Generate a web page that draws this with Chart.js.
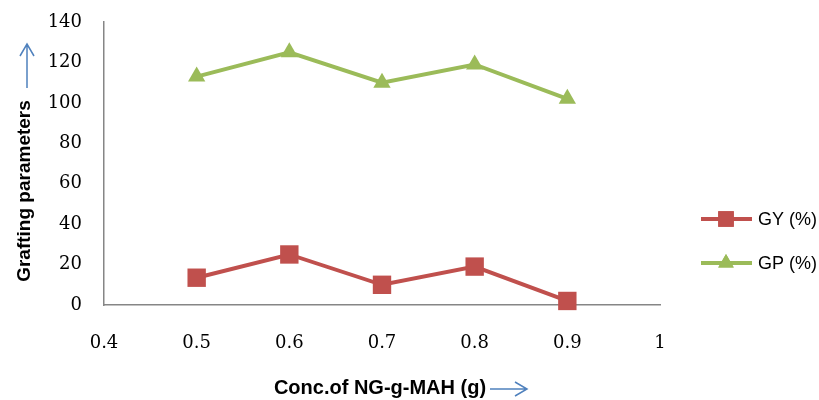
<!DOCTYPE html>
<html>
<head>
<meta charset="UTF-8">
<title>Grafting parameters</title>
<script src="https://cdn.jsdelivr.net/npm/chart.js"></script>
<style>
  body { margin: 0; background: #fff; }
  #wrap { position: relative; width: 819px; height: 400px; }
</style>
</head>
<body>
<div id="wrap"><canvas id="myChart" width="819" height="400"></canvas></div>
<script>
  // concentracao (g)
  const conc = [0.5, 0.6, 0.7, 0.8, 0.9];
  // GY (%) e GP (%)
  const gy = [13.5, 25, 10, 19, 2];
  const gp = [113, 125, 110, 119, 102];

  const xTicks = [0.4, 0.5, 0.6, 0.7, 0.8, 0.9, 1];
  const yTicks = [0, 20, 40, 60, 80, 100, 120, 140];

  const vermelho = '#C0504D';
  const verde = '#9BBB59';
  const azul = '#4F81BD';

  function pontos(valores) {
    return conc.map((c, i) => ({ x: c, y: valores[i] }));
  }

  // titulos, setas e legenda desenhados a mao
  const extras = {
    id: 'extras',
    afterDraw(chart) {
      const ctx = chart.ctx;
      ctx.save();

      // titulo eixo y
      ctx.fillStyle = '#000';
      ctx.font = 'bold 19px "Liberation Sans"';
      ctx.textAlign = 'center';
      ctx.textBaseline = 'middle';
      ctx.save();
      ctx.translate(25, 191);
      ctx.rotate(-Math.PI / 2);
      ctx.fillText('Grafting parameters', 0, 0);
      ctx.restore();

      // titulo eixo x
      ctx.font = 'bold 20px "Liberation Sans"';
      ctx.fillText('Conc.of NG-g-MAH (g)', 380, 388);

      // setas azuis
      ctx.strokeStyle = azul;
      ctx.lineWidth = 1.5;
      ctx.beginPath();
      ctx.moveTo(27, 88); ctx.lineTo(27, 44);
      ctx.moveTo(20, 56); ctx.lineTo(27, 44); ctx.lineTo(34, 56);
      ctx.moveTo(490, 389); ctx.lineTo(527, 389);
      ctx.moveTo(515, 382); ctx.lineTo(527, 389); ctx.lineTo(515, 396);
      ctx.stroke();

      // legenda
      const itens = [
        { label: 'GY (%)', cor: vermelho, y: 219, forma: 'rect', r: 11 },
        { label: 'GP (%)', cor: verde, y: 263, forma: 'triangle', r: 9 }
      ];
      ctx.font = '18px "Liberation Sans"';
      ctx.textAlign = 'left';
      itens.forEach(it => {
        ctx.strokeStyle = it.cor;
        ctx.lineWidth = 4;
        ctx.beginPath();
        ctx.moveTo(701, it.y); ctx.lineTo(752, it.y);
        ctx.stroke();
        ctx.fillStyle = it.cor;
        Chart.helpers.drawPoint(ctx, { pointStyle: it.forma, radius: it.r, borderWidth: 0 }, 726, it.y);
        ctx.fill();
        ctx.fillStyle = '#000';
        ctx.fillText(it.label, 758, it.y + 1);
      });
      ctx.restore();
    }
  };

  const data = {
    datasets: [{
      label: 'GY (%)',
      data: pontos(gy),
      borderColor: vermelho,
      backgroundColor: vermelho,
      borderWidth: 4,
      pointStyle: 'rect',
      pointRadius: 13,
      pointBorderWidth: 0,
      clip: false
    }, {
      label: 'GP (%)',
      data: pontos(gp),
      borderColor: verde,
      backgroundColor: verde,
      borderWidth: 4,
      pointStyle: 'triangle',
      pointRadius: 10,
      pointBorderWidth: 0,
      clip: false
    }]
  };

  const config = {
    type: 'line',
    data: data,
    options: {
      responsive: false,
      animation: false,
      events: [],
      layout: { autoPadding: false, padding: { top: 22, right: 159, left: 0, bottom: 0 } },
      plugins: {
        legend: { display: false },
        tooltip: { enabled: false }
      },
      scales: {
        x: {
          type: 'linear',
          min: 0.4,
          max: 1,
          afterBuildTicks: s => { s.ticks = xTicks.map(v => ({ value: v })); },
          afterFit: s => { s.height = 95; },
          grid: { display: false, drawTicks: false },
          border: { color: '#868686', width: 1.5 },
          ticks: {
            padding: 28,
            color: '#000',
            font: { family: '"DejaVu Serif"', size: 18 },
            callback: v => String(v)
          }
        },
        y: {
          min: 0,
          max: 140,
          afterBuildTicks: s => { s.ticks = yTicks.map(v => ({ value: v })); },
          afterFit: s => { s.width = 104; s.paddingTop = 0; s.paddingBottom = 0; },
          grid: { display: false, drawTicks: false },
          border: { color: '#868686', width: 1.5 },
          ticks: {
            padding: 22,
            color: '#000',
            font: { family: '"DejaVu Serif"', size: 18 }
          }
        }
      }
    },
    plugins: [extras]
  };

  const myChart = new Chart(document.getElementById('myChart'), config);
</script>
</body>
</html>
